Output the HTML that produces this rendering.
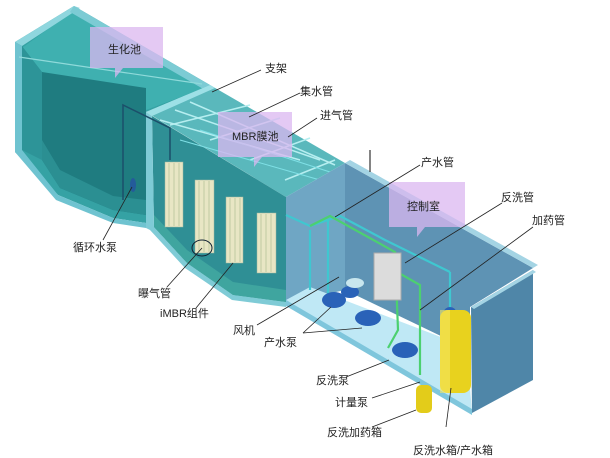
<!DOCTYPE html>
<html><head><meta charset="utf-8"><style>
html,body{margin:0;padding:0;background:#fff;}
svg{display:block;}
text{font-family:"Liberation Sans","Noto Sans CJK SC",sans-serif;font-size:11px;fill:#222;}
</style></head><body>
<svg width="610" height="458" viewBox="0 0 610 458" xmlns="http://www.w3.org/2000/svg">
<rect width="610" height="458" fill="#fff"/>
<!-- Bio tank -->
<polygon points="15,42 74,6 210,85 146,112 146,223 113,218 58,195 15,152" fill="#35a2a4"/>
<polygon points="22,48 74,10 205,88 146,110 120,100 42,72" fill="#3fb0b0"/>
<polygon points="42,72 146,88 146,215 113,210 60,188 42,160" fill="#1f7c80"/>
<polygon points="42,140 60,170 113,196 146,200 146,215 113,210 60,188 42,160" fill="#2b8f92"/>
<polygon points="15,42 74,6 80,8 22,46" fill="#8fd6de"/>
<polygon points="74,6 210,85 205,90 70,12" fill="#7ccbd4"/>
<polygon points="22,46 42,72 42,160 22,150" fill="#2d9498"/>
<polygon points="15,42 22,46 22,150 58,195 113,218 146,223 146,228 113,223 56,200 15,152" fill="#6fc3d0"/>
<line x1="19" y1="57" x2="202" y2="84" stroke="#8fdada" stroke-width="1.2"/>
<!-- MBR tank -->
<polygon points="146,112 210,85 345,163 286,197" fill="#5ab8bc"/>
<polygon points="146,112 210,85 215,88 152,116" fill="#9de0e6"/>
<polygon points="152,116 286,197 286,302 233,295 187,263 154,227" fill="#2f8f95"/>
<polygon points="146,112 152,116 154,227 187,263 233,295 286,302 286,307 232,300 185,268 150,230 146,228" fill="#7fcbd6"/>
<polygon points="154,215 187,250 233,282 286,290 286,302 233,295 187,263 154,227" fill="#3fa59f"/>
<g stroke="#b6eef0" stroke-width="1.5" fill="none">
<line x1="160" y1="120" x2="300" y2="160"/><line x1="175" y1="110" x2="320" y2="160"/>
<line x1="190" y1="102" x2="335" y2="165"/><line x1="170" y1="125" x2="250" y2="105"/>
<line x1="210" y1="140" x2="280" y2="118"/><line x1="250" y1="160" x2="310" y2="138"/>
<line x1="285" y1="180" x2="335" y2="160"/>
</g>
<g stroke="#7fe0e6" stroke-width="1" fill="none">
<line x1="180" y1="140" x2="320" y2="180"/><line x1="200" y1="130" x2="330" y2="172"/>
</g>
<g fill="#e8e6c4" stroke="#9fb8a0" stroke-width="0.5">
<rect x="165" y="162" width="18" height="65"/><rect x="195" y="180" width="19" height="73"/>
<rect x="226" y="197" width="17" height="66"/><rect x="257" y="213" width="19" height="60"/>
</g>
<g stroke="#b7c49a" stroke-width="0.8">
<line x1="169" y1="163" x2="169" y2="226"/><line x1="174" y1="163" x2="174" y2="226"/><line x1="179" y1="163" x2="179" y2="226"/>
<line x1="199" y1="181" x2="199" y2="252"/><line x1="204" y1="181" x2="204" y2="252"/><line x1="209" y1="181" x2="209" y2="252"/>
<line x1="230" y1="198" x2="230" y2="262"/><line x1="235" y1="198" x2="235" y2="262"/><line x1="240" y1="198" x2="240" y2="262"/>
<line x1="261" y1="214" x2="261" y2="272"/><line x1="266" y1="214" x2="266" y2="272"/><line x1="271" y1="214" x2="271" y2="272"/>
</g>
<ellipse cx="202" cy="248" rx="10" ry="8" fill="none" stroke="#123" stroke-width="1"/>
<polyline points="123,200 123,105 170,128 170,160" fill="none" stroke="#1c4f6a" stroke-width="1.5"/>
<ellipse cx="133" cy="185" rx="3" ry="7" fill="#245b9a"/>
<!-- control room -->
<polygon points="286,197 345,163 345,290 286,303" fill="#6fa6c4"/>
<polygon points="345,163 533,268 470,307 470,350 345,290" fill="#5e93b4"/>
<polygon points="286,300 310,287 467,347 472,413" fill="#bfe8f5"/>
<polygon points="286,300 472,409 472,415 286,306" fill="#7fc6dc"/>
<polygon points="345,163 350,160 538,265 533,268" fill="#a4d4e4"/>
<polygon points="471,307 533,270 533,380 472,413" fill="#4f86a8"/>
<polygon points="471,307 533,270 536,272 474,309" fill="#a4d4e4"/>
<line x1="370" y1="150" x2="370" y2="172" stroke="#333" stroke-width="1.2"/>
<g fill="none" stroke-width="2.2">
<polyline points="286,215 310,226 340,216 385,240 450,272" stroke="#3fc7d0"/>
<polyline points="310,226 330,216 395,252 398,330 388,348" stroke="#4cd070"/>
<polyline points="310,230 310,290" stroke="#3fc7d0"/>
<polyline points="328,220 328,300" stroke="#3fc7d0"/>
<polyline points="450,272 450,320" stroke="#3fc7d0"/>
<polyline points="390,268 420,285 420,375" stroke="#4cd070"/>
</g>
<rect x="374" y="253" width="27" height="47" fill="#dcdcdc" stroke="#aaa"/>
<g fill="#2a62b8">
<ellipse cx="334" cy="300" rx="12" ry="8"/><ellipse cx="350" cy="292" rx="9" ry="6"/>
<ellipse cx="368" cy="318" rx="13" ry="8"/><ellipse cx="405" cy="350" rx="13" ry="8"/>
<ellipse cx="450" cy="312" rx="6" ry="5"/>
</g>
<ellipse cx="355" cy="283" rx="9" ry="5" fill="#c8e6ee"/>
<rect x="440" y="310" width="31" height="83" rx="8" fill="#e8d21e"/>
<rect x="440" y="310" width="10" height="83" fill="#f5e660" opacity="0.6"/>
<rect x="416" y="385" width="16" height="28" rx="5" fill="#e3cc1a"/>
<g fill="#dbb7f0" opacity="0.75">
<path d="M90,27 h73 v41 h-40 l-8,10 l0,-10 h-25z"/>
<path d="M218,112 h74 v45 h-30 l-8,10 l0,-10 h-36z"/>
<path d="M389,182 h76 v45 h-40 l-8,10 l0,-10 h-28z"/>
</g>
<text x="108" y="53" font-size="13">生化池</text>
<text x="232" y="140" font-size="13">MBR膜池</text>
<text x="407" y="210" font-size="13">控制室</text>
<g stroke="#222" stroke-width="0.8" fill="none">
<line x1="261" y1="70" x2="212" y2="92"/><line x1="300" y1="93" x2="249" y2="117"/>
<line x1="317" y1="118" x2="288" y2="137"/><line x1="420" y1="165" x2="335" y2="217"/>
<line x1="502" y1="203" x2="405" y2="263"/><line x1="533" y1="227" x2="420" y2="310"/>
<line x1="103" y1="240" x2="132" y2="187"/><line x1="167" y1="287" x2="202" y2="248"/>
<line x1="196" y1="308" x2="233" y2="263"/><line x1="257" y1="325" x2="339" y2="277"/>
<line x1="303" y1="333" x2="331" y2="307"/><line x1="303" y1="333" x2="362" y2="328"/>
<line x1="346" y1="377" x2="389" y2="360"/><line x1="372" y1="398" x2="420" y2="382"/>
<line x1="372" y1="427" x2="416" y2="410"/><line x1="446" y1="427" x2="451" y2="388"/>
</g>
<text x="265" y="72">支架</text>
<text x="300" y="95">集水管</text>
<text x="320" y="119">进气管</text>
<text x="421" y="166">产水管</text>
<text x="501" y="201">反洗管</text>
<text x="532" y="224">加药管</text>
<text x="73" y="251">循环水泵</text>
<text x="138" y="297">曝气管</text>
<text x="160" y="317">iMBR组件</text>
<text x="233" y="334">风机</text>
<text x="264" y="346">产水泵</text>
<text x="316" y="384">反洗泵</text>
<text x="335" y="406">计量泵</text>
<text x="327" y="436">反洗加药箱</text>
<text x="413" y="454">反洗水箱/产水箱</text>
</svg>
</body></html>
